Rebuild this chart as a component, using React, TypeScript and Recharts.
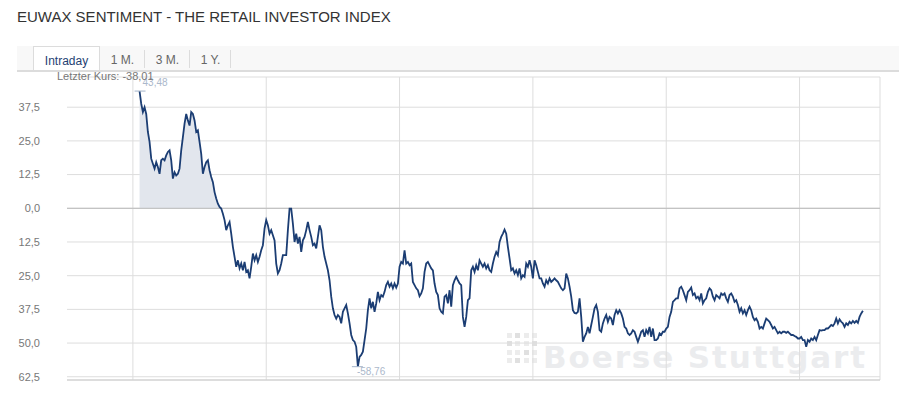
import React from 'react';
import {
  ComposedChart,
  Line,
  Area,
  XAxis,
  YAxis,
  CartesianGrid,
  ReferenceLine,
  LabelList,
} from 'recharts';

// intraday quotes, one every 1.5 minutes starting ~08:06
const START_MIN = 486;
const STEP_MIN = 1.5;

const morning = [
  43.48, 38.8, 35.7, 37.5, 35, 28.3, 24.6, 18.4, 16.5, 14.7,
  17.1, 15.3, 12.8, 17.8, 18.4, 17.8, 19.6, 20.9, 21.5, 17.8,
  11, 13.4, 12.2, 12.8, 14.7, 21.5, 26.4, 31.4, 35, 32.6,
  30.7, 35.7, 35, 32.6, 28.3, 28.9, 24.6, 20.2, 12.8, 15.3,
  17.1, 17.8, 14.1, 11.6, 9.7, 6, 3.6, 1.7, 0.5, -0.1,
  -2, -4.4, -8.1, -6.3, -5.1, -9.4, -14.3, -18, -21.7, -19.3,
  -22.3, -20.5, -23, -19.9, -23.6, -23, -26, -21.7, -16.8, -19.3,
  -17.4, -19.9, -18, -15.6, -13.7, -7.5, -4.4, -6.3, -9.4, -8.1,
  -10, -11.9, -20.5, -24.2, -23, -20.5, -17.4, -17.4, -17.4, -8.1,
  -0.1, -0.1, -5.7, -12.5, -9.4, -13.1, -10.6, -16.2, -11.9, -10.6,
  -8.1, -5.1, -8.1, -10.6, -13.7, -13.1, -14.9, -10.6, -6.3, -8.1,
  -14.3, -18, -20.5, -23, -26.7,
];

const midday = [
  -32.8, -37.1, -39.6, -40.9, -39.6, -40.3, -42.7, -38.4, -37.1, -35.9,
  -39, -42.7, -47, -48.9, -49.5, -51.4, -58.76, -55.1, -54.4, -53.2,
  -48.9, -44.6, -37.8, -33.4, -37.1, -34.7, -38.4, -35.3, -31, -34.1,
  -32.2, -32.8, -31, -28.5, -27.3, -29.1, -27.9, -29.7, -27.9, -29.4,
  -27.9, -21.7, -19.9, -20.5, -15.6, -20.5, -19.9, -21.1, -20.5, -27.3,
  -28.5, -29.7, -30.4, -32.6, -31.6, -29.7, -23.6, -20.5, -19.9, -21.1,
  -22.3, -23, -27.9, -31, -32.2, -37.1, -38.4, -39, -32.8, -32.2,
  -35.3, -30.4, -36.5, -28.5, -26.7, -25.4, -26.7, -27.9, -28.5, -40.3,
  -44, -40.3, -34.1, -33.4, -23, -21.7, -23.6, -21.1, -23, -19.3,
  -20.5, -21.7, -20.5, -22.3, -21.1, -23, -23.6, -20.5, -18, -16.2,
  -17.4, -12.5, -10.6, -9.4, -7.9, -9.4, -14.3, -18.6, -23, -22.3,
  -24.2, -23, -24.8, -22.3,
];

const afternoon = [
  -26, -24.8, -25.4, -20.5, -21.7, -19.3, -21.7, -26, -19.3, -21.1,
  -23.6, -26, -26, -27.9, -29.1, -26.7, -27.9, -26, -27.3, -26.7,
  -26, -26.7, -27.3, -28.5, -29.7, -30.4, -29.7, -24.2, -26, -29.1,
  -32.8, -37.8, -38.8, -39, -38.4, -33.4, -40.3, -49.5, -47.7, -46.4,
  -44, -46.4, -43.3, -40.3, -37.1, -35.9, -38.4, -45.2, -45.8, -42.7,
  -40.9, -39.6, -42.1, -40.3, -40.9, -43.3, -39.6, -37.8, -39, -37.8,
  -39, -40.9, -44, -44.6, -46.4, -47, -46.4, -45.2, -45.8, -47.7,
  -49.5, -47.7, -45.8, -45.2, -47.7, -45.2, -46.4, -44, -47.7, -44.6,
  -48.9, -48.9, -48.3, -46.4, -47, -45.8, -45.8, -44.6, -44, -40.3,
  -38.4, -34.7, -34.1, -33.4, -33.4, -29.7, -29.1, -30.4, -32.2, -34.1,
  -31, -30.4, -29.4, -32.2, -31.6, -33.4, -32.8, -34.1,
];

const evening = [
  -31.6, -35.3, -34.1, -33.4, -31, -29.7, -30.4, -32.8, -34.1, -32.2,
  -32.8, -33.4, -31.6, -32.2, -31.6, -33.4, -34.7, -32.2, -31.6, -32.8,
  -34.7, -34.1, -35.9, -38.4, -37.1, -39, -37.8, -39.6, -37.8, -36.5,
  -37.8, -40.3, -41.5, -40.9, -42.1, -44.6, -44, -44.6, -42.7, -40.9,
  -41.5, -42.1, -43.3, -44.6, -44, -45.2, -46.4, -45.8, -46.4, -45.8,
  -45.8, -46.2, -45.8, -46.4, -47, -47, -47.4, -47.7, -48.3, -48.3,
  -47.7, -48.9, -48.9, -51.4, -48.9, -49.5, -48.3, -48.9, -47.7, -48.9,
  -47, -45.2, -45.4, -45.2, -45.2, -44.6, -44.6, -44, -43.3, -43.7,
  -42.7, -40.9, -42.7, -41.2, -42.1, -42.7, -44, -42.7, -43.3, -42.1,
  -42.7, -41.8, -42.5, -41.8, -42.5, -40.3, -39, -38.01,
];

const yTicks = [37.5, 25, 12.5, 0, -12.5, -25, -37.5, -50, -62.5];
const hourTicks = [480, 600, 720, 840, 960, 1080]; // 08:00 ... 18:00
const tabs = ['Intraday', '1 M.', '3 M.', '1 Y.'];

const X_DOMAIN = [420.7, 1152.4];
const Y_DOMAIN = [-63.7, 48.7];

const values = [...morning, ...midday, ...afternoon, ...evening];
const data = values.map((v, i) => ({
  t: START_MIN + i * STEP_MIN,
  v,
  pos: Math.max(v, 0),
}));
const maxV = Math.max(...values);
const minV = Math.min(...values);
const last = values[values.length - 1];

const fmt = (n: number, d = 2) => n.toFixed(d).replace('.', ',');

const FONT = '"Liberation Sans", Arial, sans-serif';

function ExtremeLabel(props: any) {
  const { x, y, value } = props;
  if (value === maxV) {
    return (
      <g>
        <line x1={x - 5} x2={x + 6} y1={y} y2={y} stroke="#a3b3c9" strokeWidth={1} />
        <text x={x + 3} y={y - 5} fontSize={10} fill="#abb8cb" fontFamily={FONT}>
          {fmt(value)}
        </text>
      </g>
    );
  }
  if (value === minV) {
    return (
      <g>
        <line x1={x - 6} x2={x + 5} y1={y} y2={y} stroke="#a3b3c9" strokeWidth={1} />
        <text x={x - 1} y={y + 8} fontSize={10} fill="#abb8cb" fontFamily={FONT}>
          {fmt(value)}
        </text>
      </g>
    );
  }
  return null;
}

function Tabs() {
  return (
    <div
      style={{
        position: 'absolute',
        left: 17,
        top: 46,
        width: 882,
        height: 24,
        background: '#f8f8f8',
        borderBottom: '2px solid #dcdcdc',
        display: 'flex',
        paddingLeft: 16,
        boxSizing: 'content-box',
      }}
    >
      {tabs.map((t, i) => {
        const active = i === 0;
        const w = active ? 67 : i === 3 ? 41 : 45;
        return (
          <div
            key={t}
            style={{
              width: w,
              height: 24,
              boxSizing: 'border-box',
              background: active ? '#fff' : 'transparent',
              border: active ? '1px solid #dcdcdc' : 'none',
              borderBottom: 'none',
              fontSize: 12,
              lineHeight: '28px',
              textAlign: 'center',
              color: active ? '#1f3f72' : '#666',
              position: 'relative',
            }}
          >
            {t}
            {!active && (
              <div
                style={{
                  position: 'absolute',
                  right: 0,
                  top: 4,
                  width: 1,
                  height: 18,
                  background: '#dcdcdc',
                }}
              />
            )}
          </div>
        );
      })}
    </div>
  );
}

function Watermark() {
  const dots = [0, 1, 2, 3];
  return (
    <>
      {dots.map((r) =>
        dots.map((c) => (
          <div
            key={`${r}-${c}`}
            style={{
              position: 'absolute',
              left: 507 + c * 8.3,
              top: 333 + r * 8.3,
              width: 5,
              height: 5,
              background: (r + c) % 3 === 1 ? '#e0e0e0' : '#ececec',
            }}
          />
        ))
      )}
      <div
        style={{
          position: 'absolute',
          left: 543,
          top: 342,
          fontFamily: '"DejaVu Sans", sans-serif',
          fontWeight: 'bold',
          fontSize: 31,
          lineHeight: '31px',
          letterSpacing: 1.9,
          color: '#ebecee',
          whiteSpace: 'nowrap',
        }}
      >
        Boerse Stuttgart
      </div>
    </>
  );
}

export default function App() {
  return (
    <div
      style={{
        position: 'absolute',
        left: 0,
        top: 0,
        width: 899,
        height: 414,
        background: '#fff',
        overflow: 'hidden',
        fontFamily: FONT,
      }}
    >
      <div
        style={{
          position: 'absolute',
          left: 17,
          top: 8,
          fontSize: 15,
          color: '#333',
          whiteSpace: 'nowrap',
        }}
      >
        EUWAX SENTIMENT - THE RETAIL INVESTOR INDEX
      </div>
      <Tabs />
      <Watermark />
      <div style={{ position: 'absolute', left: 0, top: 0 }}>
        <ComposedChart
          width={899}
          height={414}
          data={data}
          margin={{ top: 77, right: 19, bottom: 24, left: 17 }}
        >
          <CartesianGrid stroke="#dddddd" strokeWidth={1} vertical={false} />
          <XAxis
            dataKey="t"
            type="number"
            domain={X_DOMAIN}
            allowDataOverflow
            ticks={hourTicks}
            interval={0}
            tick={false}
            tickLine={false}
            height={10}
            axisLine={{ stroke: '#cccccc' }}
          />
          <YAxis
            type="number"
            domain={Y_DOMAIN}
            allowDataOverflow
            ticks={yTicks}
            interval={0}
            width={50}
            axisLine={false}
            tickLine={false}
            tickSize={0}
            tickMargin={27}
            tick={{ fontSize: 11, fill: '#777', fontFamily: FONT }}
            tickFormatter={(v: number) => fmt(Math.abs(v), 1)}
          />
          {[...hourTicks, X_DOMAIN[1]].map((h) => (
            <ReferenceLine key={h} x={h} stroke="#dddddd" />
          ))}
          <Area
            type="linear"
            dataKey="pos"
            baseValue={0}
            stroke="none"
            fill="#e2e6ed"
            fillOpacity={1}
            isAnimationActive={false}
          />
          <ReferenceLine y={0} stroke="#bbbbbb" />
          <Line
            type="linear"
            dataKey="v"
            stroke="#1b3d73"
            strokeWidth={1.8}
            dot={false}
            isAnimationActive={false}
          >
            <LabelList dataKey="v" content={<ExtremeLabel />} />
          </Line>
        </ComposedChart>
      </div>
      <div
        style={{
          position: 'absolute',
          left: 57,
          top: 70,
          fontSize: 11,
          lineHeight: '12px',
          color: '#777',
          whiteSpace: 'nowrap',
        }}
      >
        {`Letzter Kurs: ${fmt(last)}`}
      </div>
    </div>
  );
}
